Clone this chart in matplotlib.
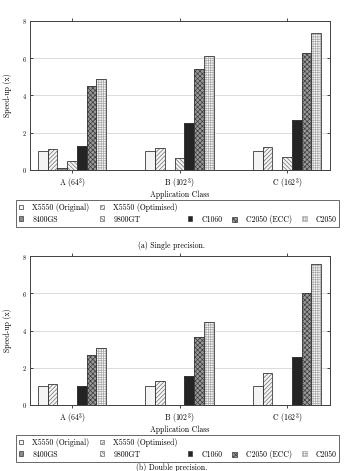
import numpy as np
import matplotlib.pyplot as plt
from matplotlib.patches import Patch

plt.rcParams['font.family'] = ['cmr10', 'DejaVu Serif']
plt.rcParams['mathtext.fontset'] = 'cm'
plt.rcParams['axes.formatter.use_mathtext'] = True
plt.rcParams['hatch.linewidth'] = 0.5

classes = ['A (64$^3$)', 'B (102$^3$)', 'C (162$^3$)']
series = ['X5550 (Original)', 'X5550 (Optimised)', '8400GS', '9800GT',
          'C1060', 'C2050 (ECC)', 'C2050']

# speed-up values, nan where no bar is drawn
single_orig = [1.0, 1.0, 1.0]
single_opt = [1.14, 1.18, 1.23]
single_8400 = [0.09, np.nan, np.nan]
single_9800 = [0.48, 0.66, 0.70]
single_c1060 = [1.29, 2.52, 2.67]
single_ecc = [4.51, 5.40, 6.26]
single_c2050 = [4.87, 6.14, 7.37]

double_orig = [1.0, 1.0, 1.0]
double_opt = [1.11, 1.27, 1.74]
double_8400 = [np.nan, np.nan, np.nan]
double_9800 = [np.nan, np.nan, np.nan]
double_c1060 = [1.04, 1.56, 2.57]
double_ecc = [2.69, 3.64, 6.01]
double_c2050 = [3.07, 4.43, 7.57]

# (facecolor, hatch, hatch colour) per series
styles = [
    ('#f4f4f4', None, None),
    ('#f4f4f4', '////////', '#707070'),
    ('#8a8a8a', None, None),
    ('#f4f4f4', '\\\\\\\\\\\\\\\\', '#707070'),
    ('#242424', None, None),
    ('#9a9a9a', 'xxxxxxx', '#3c3c3c'),
    ('#f8f8f8', '+++++++', '#a8a8a8'),
]
edge = '#3a3a3a'
fs = 5.6


def draw_panel(ax, data):
    x = np.arange(len(classes))
    w = 0.091
    for i, (vals, (fc, hatch, hc)) in enumerate(zip(data, styles)):
        pos = x + (i - 3) * w
        if hatch:
            ax.bar(pos, vals, w, color=fc, edgecolor=hc, hatch=hatch,
                   linewidth=0, zorder=2)
        else:
            ax.bar(pos, vals, w, color=fc, linewidth=0, zorder=2)
        ax.bar(pos, vals, w, fill=False, edgecolor=edge, linewidth=0.6, zorder=3)
    ax.set_xlim(-0.391, 2.40)
    ax.set_ylim(0, 8)
    ax.set_yticks([0, 2, 4, 6, 8])
    ax.set_xticks(x)
    ax.set_xticklabels(classes, fontsize=fs)
    ax.tick_params(axis='y', labelsize=4.6, length=2, width=0.5,
                   direction='in', right=True, pad=2.5)
    ax.tick_params(axis='x', length=2.5, width=0.5, direction='out',
                   top=True, pad=2.0)
    ax.grid(axis='y', color='#dcdcdc', linewidth=0.7, zorder=0)
    ax.set_axisbelow(True)
    for s in ax.spines.values():
        s.set_linewidth(0.7)
        s.set_color('#404040')
    ax.set_ylabel('Speed-up (x)', fontsize=fs, labelpad=7)
    ax.set_xlabel('Application Class', fontsize=fs, labelpad=-0.3)


def add_legend(fig, top):
    h = [Patch(facecolor=fc, edgecolor=hc if hatch else edge, hatch=hatch,
               linewidth=0.5) for fc, hatch, hc in styles]
    blank = Patch(visible=False)
    handles = [h[0], h[2], h[1], h[3], blank, h[4], blank, h[5], blank, h[6]]
    labels = [series[0], series[2], series[1], series[3], '', series[4],
              '', series[5], '', series[6]]
    leg = fig.legend(handles, labels, loc='upper left', ncol=5,
                     bbox_to_anchor=(16 / 345, 1 - top / 471),
                     fontsize=fs, frameon=True, fancybox=False,
                     handlelength=0.6, handleheight=0.6, handletextpad=1.15,
                     columnspacing=1.3, labelspacing=0.45, borderpad=0.35,
                     borderaxespad=0)
    leg.get_frame().set_edgecolor('#404040')
    leg.get_frame().set_linewidth(0.7)


fig = plt.figure(figsize=(3.45, 4.71), dpi=100)
ax1 = fig.add_axes([30 / 345, 1 - 170 / 471, 300 / 345, 149 / 471])
ax2 = fig.add_axes([30 / 345, 1 - 405 / 471, 300 / 345, 149 / 471])

draw_panel(ax1, [single_orig, single_opt, single_8400, single_9800,
                 single_c1060, single_ecc, single_c2050])
draw_panel(ax2, [double_orig, double_opt, double_8400, double_9800,
                 double_c1060, double_ecc, double_c2050])
add_legend(fig, 200)
add_legend(fig, 435)

fig.text(172 / 345, 1 - 245 / 471, '(a) Single precision.', fontsize=fs,
         ha='center', va='center')
fig.text(172 / 345, 1 - 463.5 / 471, '(b) Double precision.', fontsize=fs,
         ha='center', va='top')

fig.savefig('out.png', dpi=100)
